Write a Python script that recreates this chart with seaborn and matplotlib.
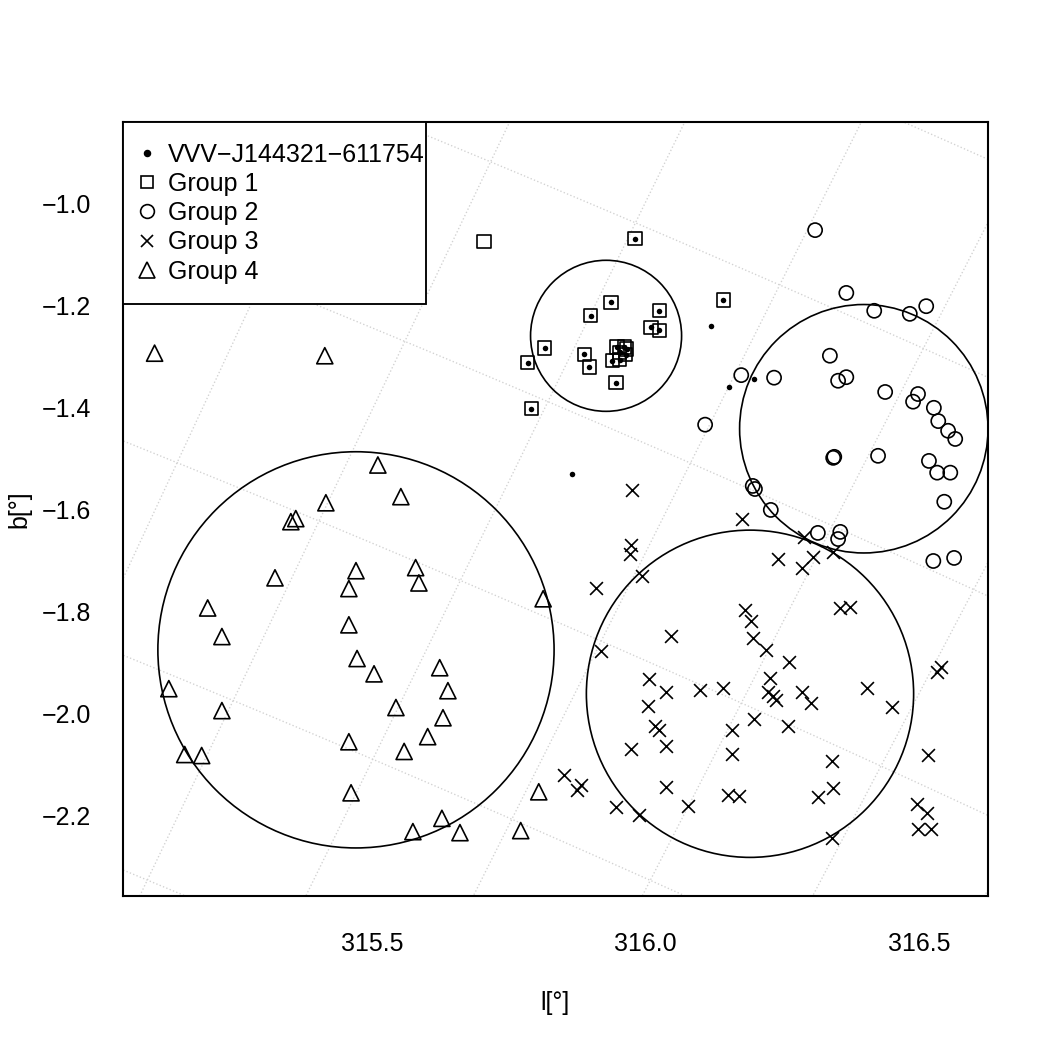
import numpy as np
import matplotlib
matplotlib.use('Agg')
import matplotlib.pyplot as plt
import seaborn as sns
from matplotlib.patches import Ellipse, Rectangle
from matplotlib.lines import Line2D

# Group 1 (squares); all but the first also carry a VVV candidate dot
g1_l = [315.705, 315.981, 315.937, 315.900, 316.025, 316.010, 316.025, 315.816, 315.785, 315.888, 315.897,
        315.948, 315.961, 315.966, 315.953, 315.964, 315.939, 315.953, 315.946, 315.791, 316.142]
g1_b = [-1.076, -1.070, -1.194, -1.221, -1.211, -1.243, -1.249, -1.284, -1.313, -1.296, -1.321,
        -1.282, -1.282, -1.286, -1.292, -1.297, -1.309, -1.307, -1.352, -1.403, -1.190]
g1_vvv = [False] + [True] * 20

# VVV candidates that are not in group 1
vvv_l = [316.120, 316.153, 316.198, 315.866]
vvv_b = [-1.241, -1.360, -1.344, -1.530]

# Group 2 (circles)
g2_l = [316.310, 316.367, 316.418, 316.483, 316.513, 316.337, 316.175, 316.235, 316.352, 316.367, 316.438,
        316.498, 316.489, 316.527, 316.109, 316.535, 316.553, 316.566, 316.345, 316.343, 316.425, 316.518,
        316.533, 316.557, 316.546, 316.196, 316.200, 316.229, 316.315, 316.356, 316.352, 316.526, 316.564]
g2_b = [-1.053, -1.176, -1.211, -1.217, -1.202, -1.299, -1.337, -1.342, -1.348, -1.341, -1.370,
        -1.374, -1.389, -1.401, -1.434, -1.427, -1.446, -1.462, -1.497, -1.499, -1.495, -1.505,
        -1.528, -1.528, -1.585, -1.554, -1.560, -1.601, -1.646, -1.644, -1.658, -1.701, -1.695]

# Group 3 (crosses)
g3_l = [315.975, 315.973, 315.972, 315.994, 315.909, 316.176, 316.290, 316.242, 316.306, 316.286, 316.343,
        316.356, 316.374, 316.182, 316.193, 316.197, 316.220, 316.047, 316.262, 315.919, 316.006, 316.037,
        316.100, 316.142, 316.228, 316.224, 316.233, 316.239, 316.286, 316.303, 316.005, 316.017, 316.025,
        316.198, 316.158, 316.260, 315.973, 316.037, 316.158, 316.037, 316.078, 316.151, 316.171, 315.946,
        315.988, 315.851, 315.875, 315.882, 316.540, 316.533, 316.405, 316.451, 316.516, 316.341, 316.343,
        316.315, 316.496, 316.515, 316.498, 316.522, 316.341]
g3_b = [-1.562, -1.669, -1.687, -1.730, -1.753, -1.618, -1.654, -1.697, -1.693, -1.714, -1.683,
        -1.793, -1.791, -1.796, -1.818, -1.851, -1.875, -1.847, -1.898, -1.877, -1.932, -1.957,
        -1.953, -1.949, -1.930, -1.957, -1.965, -1.973, -1.957, -1.980, -1.984, -2.025, -2.031,
        -2.010, -2.031, -2.025, -2.070, -2.063, -2.078, -2.143, -2.180, -2.160, -2.162, -2.182,
        -2.198, -2.121, -2.149, -2.139, -1.908, -1.918, -1.949, -1.986, -2.080, -2.092, -2.145,
        -2.164, -2.176, -2.194, -2.225, -2.225, -2.243]

# Group 4 (triangles)
g4_l = [315.103, 315.414, 315.511, 315.553, 315.416, 315.352, 315.361, 315.471, 315.580, 315.323, 315.586,
        315.458, 315.200, 315.226, 315.458, 315.473, 315.504, 315.129, 315.226, 315.544, 315.458, 315.559,
        315.158, 315.189, 315.462, 315.575, 315.813, 315.624, 315.639, 315.630, 315.602, 315.805, 315.628,
        315.661, 315.772]
g4_b = [-1.294, -1.299, -1.513, -1.575, -1.587, -1.624, -1.618, -1.720, -1.714, -1.734, -1.744,
        -1.755, -1.793, -1.849, -1.826, -1.892, -1.922, -1.951, -1.994, -1.988, -2.055, -2.074,
        -2.080, -2.082, -2.155, -2.231, -1.775, -1.910, -1.955, -2.008, -2.045, -2.153, -2.205,
        -2.233, -2.229]

# group circles: centre (l, b) and radius in degrees of l
circ_l = [315.928, 316.399, 316.191, 315.471]
circ_b = [-1.260, -1.442, -1.961, -1.875]
circ_r = [0.138, 0.227, 0.299, 0.362]

# equatorial grid levels (deg)
ra_levels = 220.67 + 0.6 * np.arange(-4, 5)
dec_levels = np.sort(-61.06 - 0.385 * np.arange(-2, 6))

sns.set_style('white')
plt.rcParams['font.family'] = ['Liberation Sans', 'DejaVu Sans']
plt.rcParams['font.size'] = 12
plt.rcParams['text.color'] = 'black'
plt.rcParams['axes.labelcolor'] = 'black'
plt.rcParams['xtick.color'] = 'black'
plt.rcParams['ytick.color'] = 'black'

fig = plt.figure(figsize=(7, 7), dpi=150)
ax = fig.add_axes([0.117, 0.1467, 0.824, 0.737])
ax.set_xlim(315.045, 316.626)
ax.set_ylim(-2.357, -0.8415)

# galactic -> equatorial grid
L, B = np.meshgrid(np.linspace(314.9, 316.8, 300), np.linspace(-2.5, -0.7, 300))
lr, br = np.radians(L), np.radians(B)
g = np.stack([np.cos(br) * np.cos(lr), np.cos(br) * np.sin(lr), np.sin(br)])
T = np.array([[-0.0548755604, -0.8734370902, -0.4838350155],
              [0.4941094279, -0.4448296300, 0.7469822445],
              [-0.8676661490, -0.1980763734, 0.4559837762]])
e = np.einsum('ji,jkl->ikl', T, g)
ra = np.degrees(np.arctan2(e[1], e[0])) % 360
dec = np.degrees(np.arcsin(e[2]))
ax.contour(L, B, ra, levels=ra_levels, colors='#d2d2d2', linestyles=':', linewidths=0.65, zorder=0)
ax.contour(L, B, dec, levels=dec_levels, colors='#d2d2d2', linestyles=':', linewidths=0.65, zorder=0)

mlw = 0.8
sns.scatterplot(x=g1_l, y=g1_b, marker='s', s=40, facecolor='none', edgecolor='black', linewidth=mlw, ax=ax, zorder=3)
sns.scatterplot(x=g2_l, y=g2_b, marker='o', s=46, facecolor='none', edgecolor='black', linewidth=mlw, ax=ax, zorder=3)
sns.scatterplot(x=g3_l, y=g3_b, marker='x', s=38, color='black', linewidth=mlw, ax=ax, zorder=3)
sns.scatterplot(x=g4_l, y=g4_b, marker='^', s=60, facecolor='none', edgecolor='black', linewidth=mlw, ax=ax, zorder=3)
dot_l = [l for l, v in zip(g1_l, g1_vvv) if v] + vvv_l
dot_b = [b for b, v in zip(g1_b, g1_vvv) if v] + vvv_b
sns.scatterplot(x=dot_l, y=dot_b, marker='o', s=7, color='black', linewidth=0, ax=ax, zorder=4)

# circles look round on screen: scale height by pixel aspect
pos = ax.get_position()
sx = pos.width * 7 / (316.626 - 315.045)
sy = pos.height * 7 / (-0.8415 + 2.357)
for cl, cb, r in zip(circ_l, circ_b, circ_r):
    ax.add_patch(Ellipse((cl, cb), 2 * r, 2 * r * sx / sy, fill=False, edgecolor='black', linewidth=0.8, zorder=2))

ax.set_xticks([315.5, 316.0, 316.5])
ax.set_xticklabels(['315.5', '316.0', '316.5'])
ax.set_yticks([-1.0, -1.2, -1.4, -1.6, -1.8, -2.0, -2.2])
ax.tick_params(axis='both', direction='out', length=7.2, width=0.8, labelsize=12, color='black', labelcolor='black')
ax.tick_params(axis='x', pad=10)
ax.tick_params(axis='y', pad=8)
for sp in ax.spines.values():
    sp.set_color('black')
    sp.set_linewidth(1.0)
ax.set_xlabel('l[°]', fontsize=12, labelpad=17, color='black')
ax.set_ylabel('b[°]', fontsize=12, labelpad=5, color='black')

handles = [
    Line2D([], [], marker='o', ms=2.6, color='black', ls='none'),
    Line2D([], [], marker='s', ms=6.2, mfc='none', mec='black', mew=mlw, ls='none'),
    Line2D([], [], marker='o', ms=6.6, mfc='none', mec='black', mew=mlw, ls='none'),
    Line2D([], [], marker='x', ms=6.0, color='black', mew=mlw, ls='none'),
    Line2D([], [], marker='^', ms=7.6, mfc='none', mec='black', mew=mlw, ls='none'),
]
labels = ['VVV\u2212J144321\u2212611754', 'Group 1', 'Group 2', 'Group 3', 'Group 4']
leg = ax.legend(handles, labels, loc='upper left', bbox_to_anchor=(0, 1), borderaxespad=0,
                frameon=False, fontsize=12, handlelength=0.32, handletextpad=0.68,
                borderpad=0.82, labelspacing=0.21)
leg.set_zorder(5)

# legend box: tight on the right like R's legend()
fig.canvas.draw()
inv = ax.transAxes.inverted()
bb = leg.get_window_extent()
text_right = max(t.get_window_extent().x1 for t in leg.get_texts())
x0, y0 = inv.transform((bb.x0, bb.y0))
x1, _ = inv.transform((text_right + 1, bb.y1))
ax.add_patch(Rectangle((x0, y0), x1 - x0, 1 - y0, transform=ax.transAxes, facecolor='white',
                       edgecolor='black', linewidth=0.9, zorder=4.5, clip_on=False))

fig.savefig('out.png', dpi=150)
